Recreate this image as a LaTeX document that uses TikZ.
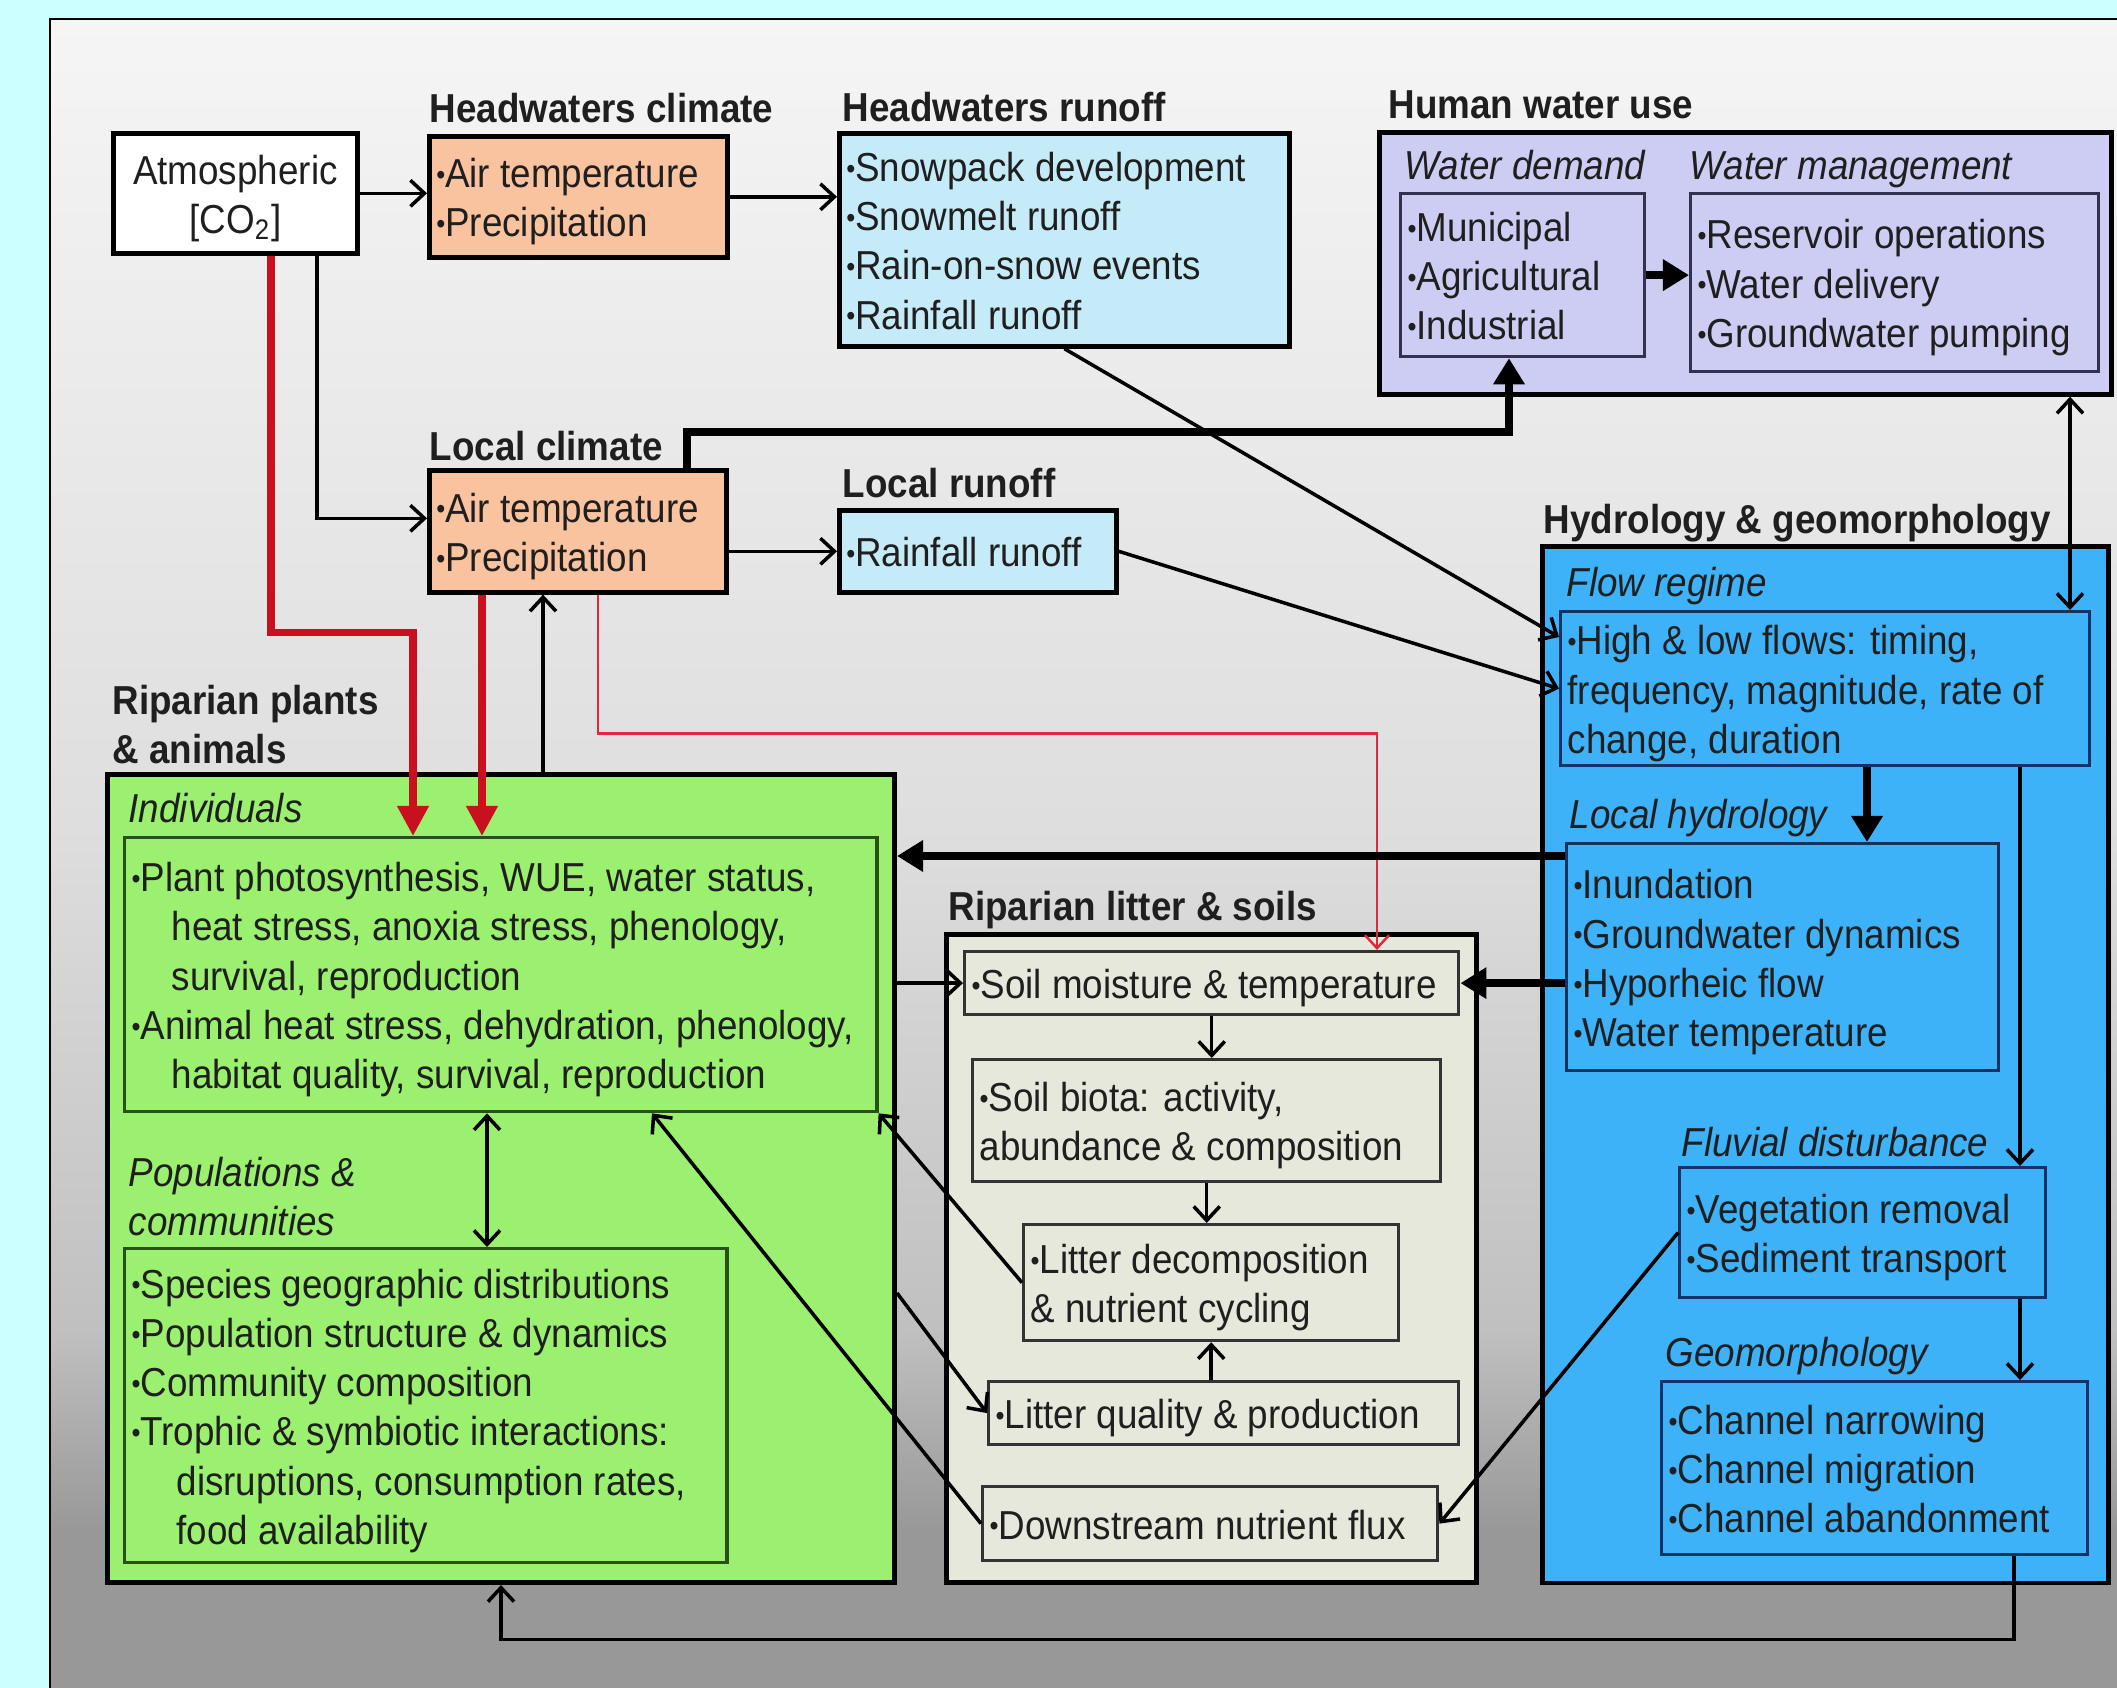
\documentclass[tikz,border=0pt]{standalone}
\usepackage{fontspec}
\setmainfont{Liberation Sans}[FakeStretch=0.91]
\usetikzlibrary{arrows.meta,calc}
\definecolor{bgcyan}{RGB}{204,255,255}
\definecolor{salmon}{RGB}{249,195,160}
\definecolor{ltblue}{RGB}{198,235,248}
\definecolor{lav}{RGB}{205,205,243}
\definecolor{hblue}{RGB}{62,178,248}
\definecolor{grn}{RGB}{156,240,112}
\definecolor{litbg}{RGB}{229,232,218}
\definecolor{myred}{RGB}{200,16,30}
\definecolor{redthn}{RGB}{225,40,60}
\definecolor{dkgreen}{RGB}{40,80,25}
\definecolor{dkblue}{RGB}{20,50,100}
\definecolor{dklav}{RGB}{50,50,80}
\definecolor{pt}{RGB}{245,245,245}
\definecolor{pmA}{RGB}{222,222,222}
\definecolor{pmB}{RGB}{192,192,192}
\definecolor{pb}{RGB}{152,152,152}
\pgfdeclareverticalshading{panelsh}{100bp}{color(0bp)=(pb);color(25bp)=(pb);color(30bp)=(pb);color(36bp)=(pmB);color(51bp)=(pmA);color(75bp)=(pt);color(100bp)=(pt)}
\newcommand\fs{\fontsize{11.5}{14}\selectfont}
\newcommand\bu{\raisebox{0.15ex}{\fontsize{8}{8}\selectfont •}}
\newcommand\mybox[8]{%
  \pgfmathsetmacro\bw{(#4-#2)/100}%
  \pgfmathsetmacro\bh{(#5-#3)/100}%
  \pgfmathsetmacro\tw{(#4-#2-14)/100}%
  \node[#6, anchor=north west, inner xsep=0.07cm, inner ysep=0pt,
        minimum width=\bw cm, minimum height=\bh cm] (#1) at (#2,#3)
       {\raisebox{-1.6pt}[\height][\depth]{\makebox[\tw cm][#7]{\begin{tabular}{@{}#7@{}}#8\end{tabular}}}};}
\begin{document}
\begin{tikzpicture}[x=0.01cm,y=-0.01cm,
  every node/.style={font=\fs, text=black!88},
  outer/.style={draw=black, line width=1.3pt},
  inner/.style={line width=0.9pt},
  ttl/.style={font=\fs\bfseries, anchor=base west, inner sep=0pt},
  sub/.style={font=\fs\itshape, anchor=base west, inner sep=0pt},
  thin/.style={draw=black, line width=1pt, -{Straight Barb[length=1.4mm,width=2.6mm]}},
  dbl/.style={draw=black, line width=1pt, {Straight Barb[length=1.4mm,width=2.6mm]}-{Straight Barb[length=1.4mm,width=2.6mm]}},
  thick/.style={draw=black, line width=2.3pt, -{Triangle[length=2.6mm,width=3mm]}},
  redthick/.style={draw=myred, line width=2pt, -{Triangle[length=3mm,width=3mm]}},
  redthin/.style={draw=redthn, line width=0.7pt, -{Straight Barb[length=1.3mm,width=2.4mm]}}]
\useasboundingbox (0,0) rectangle (2117,1688);
\fill[bgcyan] (0,0) rectangle (2117,1688);
\shade[shading=panelsh] (50,19) rectangle (2130,1700);
\draw[line width=0.8pt] (50,1700) -- (50,19) -- (2130,19);

% top row
\mybox{atm}{111}{131}{355}{251}{outer, fill=white}{c}{Atmospheric\\{[}CO\textsubscript{2}{]}}
\mybox{hc}{427}{134}{725}{255}{outer, fill=salmon}{l}{\bu Air temperature\\\bu Precipitation}
\mybox{hr}{837}{131}{1287}{344}{outer, fill=ltblue}{l}{\bu Snowpack development\\\bu Snowmelt runoff\\\bu Rain-on-snow events\\\bu Rainfall runoff}
\mybox{hwu}{1377}{130}{2109}{392}{outer, fill=lav}{l}{}
\mybox{demand}{1399}{192}{1643}{355}{inner, draw=dklav, fill=lav}{l}{\bu Municipal\\\bu Agricultural\\\bu Industrial}
\mybox{mgmt}{1689}{192}{2097}{370}{inner, draw=dklav, fill=lav}{l}{\bu Reservoir operations\\\bu Water delivery\\\bu Groundwater pumping}
\mybox{lc}{427}{468}{724}{590}{outer, fill=salmon}{l}{\bu Air temperature\\\bu Precipitation}
\mybox{lr}{837}{508}{1114}{590}{outer, fill=ltblue}{l}{\bu Rainfall runoff}

% hydrology
\mybox{hg}{1540}{544}{2106}{1580}{outer, fill=hblue}{l}{}
\mybox{flow}{1559}{610}{2088}{764}{inner, draw=dkblue, fill=hblue}{l}{\bu High \& low flows: timing,\\frequency, magnitude, rate of\\change, duration}
\mybox{lh}{1565}{842}{1997}{1069}{inner, draw=dkblue, fill=hblue}{l}{\bu Inundation\\\bu Groundwater dynamics\\\bu Hyporheic flow\\\bu Water temperature}
\mybox{fluv}{1678}{1166}{2044}{1296}{inner, draw=dkblue, fill=hblue}{l}{\bu Vegetation removal\\\bu Sediment transport}
\mybox{geo}{1660}{1380}{2086}{1553}{inner, draw=dkblue, fill=hblue}{l}{\bu Channel narrowing\\\bu Channel migration\\\bu Channel abandonment}

% plants and animals
\mybox{green}{105}{772}{892}{1580}{outer, fill=grn}{l}{}
\mybox{indiv}{123}{836}{875}{1110}{inner, draw=dkgreen, fill=grn}{l}{\bu Plant photosynthesis, WUE, water status,\\\hspace*{0.4cm}heat stress, anoxia stress, phenology,\\\hspace*{0.4cm}survival, reproduction\\\bu Animal heat stress, dehydration, phenology,\\\hspace*{0.4cm}habitat quality, survival, reproduction}
\mybox{pop}{123}{1247}{725}{1561}{inner, draw=dkgreen, fill=grn}{l}{\bu Species geographic distributions\\\bu Population structure \& dynamics\\\bu Community composition\\\bu Trophic \& symbiotic interactions:\\\hspace*{0.45cm}disruptions, consumption rates,\\\hspace*{0.45cm}food availability}

% litter and soils
\mybox{litter}{944}{932}{1474}{1580}{outer, fill=litbg}{l}{}
\mybox{soilm}{963}{950}{1457}{1013}{inner, draw=black!80, fill=litbg}{l}{\bu Soil moisture \& temperature}
\mybox{biota}{971}{1058}{1439}{1180}{inner, draw=black!80, fill=litbg}{l}{\bu Soil biota: activity,\\abundance \& composition}
\mybox{decomp}{1022}{1223}{1397}{1339}{inner, draw=black!80, fill=litbg}{l}{\bu Litter decomposition\\\& nutrient cycling}
\mybox{lq}{987}{1380}{1457}{1443}{inner, draw=black!80, fill=litbg}{l}{\bu Litter quality \& production}
\mybox{ds}{981}{1485}{1436}{1559}{inner, draw=black!80, fill=litbg}{l}{\bu Downstream nutrient flux}

% titles
\node[ttl] (thc) at ($(hc.north west)+(2,-11)$) {Headwaters climate};
\node[ttl] (thr) at ($(hr.north west)+(5,-9)$) {Headwaters runoff};
\node[ttl] (thwu) at ($(hwu.north west)+(11,-11)$) {Human water use};
\node[ttl] (tlc) at ($(lc.north west)+(2,-7)$) {Local climate};
\node[ttl] (tlr) at ($(lr.north west)+(5,-10)$) {Local runoff};
\node[ttl] (thg) at ($(hg.north west)+(3,-11)$) {Hydrology \& geomorphology};
\node[ttl] (tgr1) at ($(green.north west)+(7,-58)$) {Riparian plants};
\node[ttl] (tgr2) at ($(green.north west)+(7,-9)$) {\& animals};
\node[ttl] (tlit) at ($(litter.north west)+(4,-12)$) {Riparian litter \& soils};

% sub labels
\node[sub] (swd) at ($(demand.north west)+(5,-12)$) {Water demand};
\node[sub] (swm) at ($(mgmt.north west)+(0,-12)$) {Water management};
\node[sub] (sind) at ($(indiv.north west)+(5,-14)$) {Individuals};
\node[sub] (spop1) at ($(pop.north west)+(5,-61)$) {Populations \&};
\node[sub] (spop2) at ($(pop.north west)+(5,-12)$) {communities};
\node[sub] (sfr) at ($(flow.north west)+(7,-14)$) {Flow regime};
\node[sub] (slh) at ($(lh.north west)+(4,-14)$) {Local hydrology};
\node[sub] (sfd) at ($(fluv.north west)+(3,-10)$) {Fluvial disturbance};
\node[sub] (sgeo) at ($(geo.north west)+(5,-14)$) {Geomorphology};

% helper coordinates
\coordinate (a1) at ($(atm.south west)+(206,0)$);
\coordinate (a2) at ($(lc.west)+(0,-13)$);
\coordinate (m1) at ($(mgmt.south west)+(381,0)$);
\coordinate (f1) at ($(flow.south west)+(308,0)$);
\coordinate (f2) at ($(flow.south west)+(461,0)$);
\coordinate (f3) at ($(fluv.south west)+(342,0)$);
\coordinate (l1) at ($(lh.north west)+(0,14)$);
\coordinate (p1) at ($(indiv.south west)+(364,0)$);
\coordinate (g1) at ($(green.north east)+(0,521)$);

% connectors
\draw[thin] (atm.east) -- (atm.east -| hc.west);
\draw[thin] (hc.east) -- (hc.east -| hr.west);
\draw[thin] (hr.south) -- ($(flow.north west)+(0,27)$);
\draw[thin] (lr.east) -- (flow.west);
\draw[thin] (a1) |- (a2);
\draw[thin] (lr.west -| lc.east) -- (lr.west);
\draw[redthick] ($(atm.south west)+(160,0)$) -- ++(0,377) -| ($(indiv.north west)+(290,0)$);
\draw[redthick] ($(lc.south west)+(55,0)$) -- ($(indiv.north west)+(359,0)$);
\draw[thin] ($(green.north west)+(438,0)$) -- ($(lc.south west)+(116,0)$);
\draw[redthin] ($(lc.south west)+(171,0)$) -- ++(0,139) -| ($(soilm.north west)+(414,0)$);
\draw[thick] ($(lc.north west)+(260,0)$) -- ++(0,-36) -| ($(demand.south west)+(110,0)$);
\draw[thick] (demand.east) -- (demand.east -| mgmt.west);
\draw[dbl] (m1 |- hwu.south) -- (m1 |- flow.north);
\draw[thick] (f1) -- (f1 |- lh.north);
\draw[thick] (l1) -- (l1 -| green.east);
\draw[thick] (soilm.east -| lh.west) -- (soilm.east);
\draw[thin] (f2) -- (f2 |- fluv.north);
\draw[thin] (f3) -- (f3 |- geo.north);
\draw[thin] ($(geo.south west)+(354,0)$) -- ++(0,83) -| ($(green.south west)+(396,0)$);
\draw[dbl] (p1) -- (p1 |- pop.north);
\draw[thin] (soilm.west -| green.east) -- (soilm.west);
\draw[thin] (soilm.south) -- (soilm.south |- biota.north);
\draw[thin] (biota.south) -- (biota.south |- decomp.north);
\draw[thin] (decomp.south |- lq.north) -- (decomp.south);
\draw[thin] (decomp.west) -- (indiv.south east);
\draw[thin] (ds.west) -- ($(indiv.south west)+(529,0)$);
\draw[thin] (g1) -- (lq.west);
\draw[thin] (fluv.west) -- (ds.east);
\end{tikzpicture}
\end{document}
